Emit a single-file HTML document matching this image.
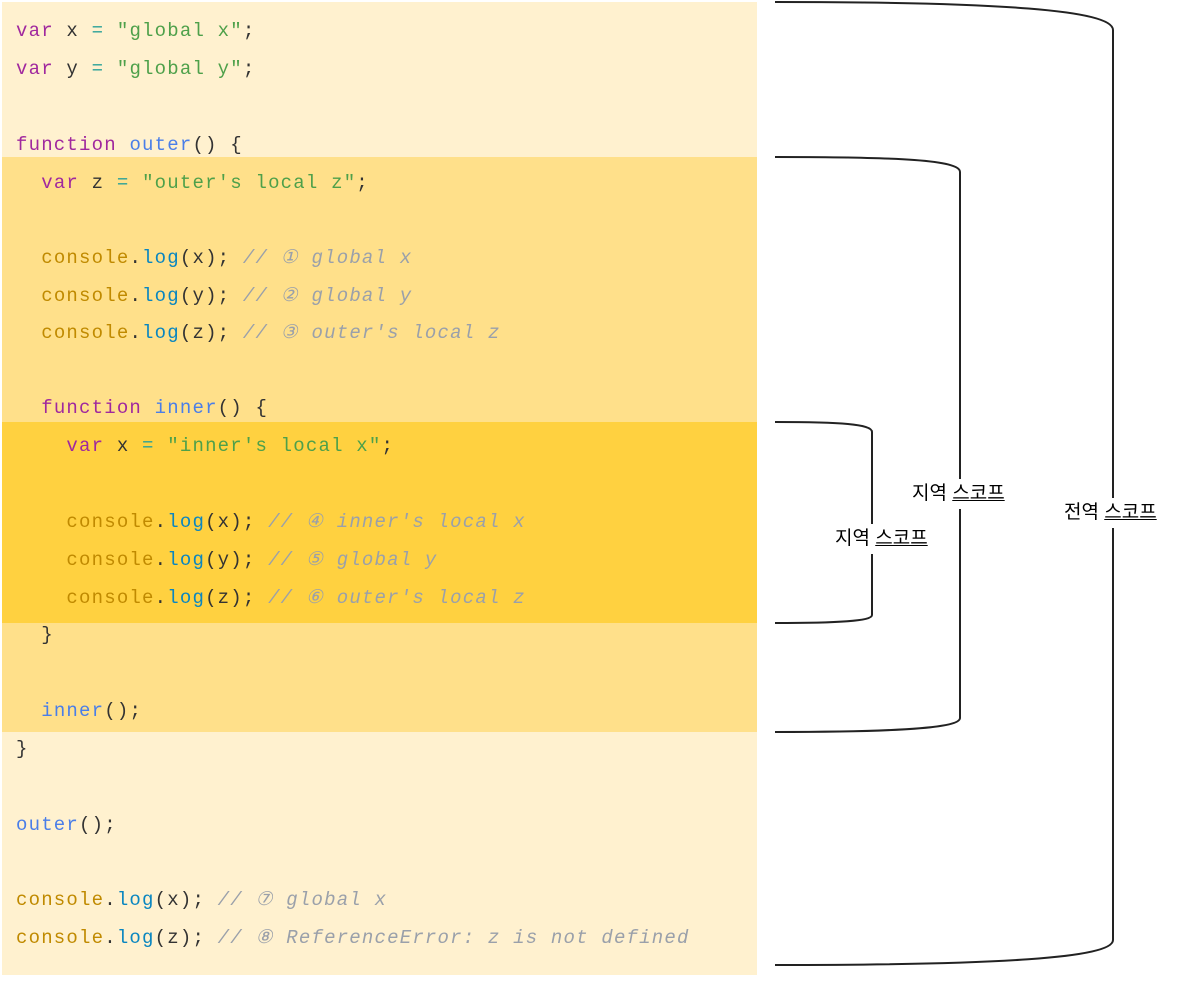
<!DOCTYPE html>
<html><head><meta charset="utf-8"><style>
body{margin:0;width:1192px;height:1006px;background:#fff;position:relative;overflow:hidden}
.bg{position:absolute;left:2px;width:755px}
.l{position:absolute;left:16px;height:38px;line-height:38px;font-family:"Liberation Mono","DejaVu Sans Mono",monospace;font-size:19px;letter-spacing:1.2px;color:#333;white-space:pre}
.k{color:#a0289e}.f{color:#4a7ee8}.s{color:#4ea04a}.o{color:#2aa198}.c{color:#c08a00}.m{color:#0a86c0}.cm{color:#9aa0aa;font-style:italic}
.lab{position:absolute;font-family:"Liberation Sans","Noto Sans CJK KR",sans-serif;font-size:19px;color:#000;background:#fff;padding:4px 0;line-height:22px}
.lab u{text-decoration:underline}
</style></head><body>
<div class="bg" style="top:2px;height:973px;background:#fff1cf"></div>
<div class="bg" style="top:157px;height:575px;background:#ffe08a"></div>
<div class="bg" style="top:422px;height:201px;background:#ffd140"></div>

<div class="l" style="top:12px"><span class="k">var</span> x <span class="o">=</span> <span class="s">"global x"</span>;</div>
<div class="l" style="top:50px"><span class="k">var</span> y <span class="o">=</span> <span class="s">"global y"</span>;</div>
<div class="l" style="top:126px"><span class="k">function</span> <span class="f">outer</span>() {</div>
<div class="l" style="top:164px">  <span class="k">var</span> z <span class="o">=</span> <span class="s">"outer's local z"</span>;</div>
<div class="l" style="top:239px">  <span class="c">console</span>.<span class="m">log</span>(x); <span class="cm">// ① global x</span></div>
<div class="l" style="top:277px">  <span class="c">console</span>.<span class="m">log</span>(y); <span class="cm">// ② global y</span></div>
<div class="l" style="top:314px">  <span class="c">console</span>.<span class="m">log</span>(z); <span class="cm">// ③ outer's local z</span></div>
<div class="l" style="top:389px">  <span class="k">function</span> <span class="f">inner</span>() {</div>
<div class="l" style="top:427px">    <span class="k">var</span> x <span class="o">=</span> <span class="s">"inner's local x"</span>;</div>
<div class="l" style="top:503px">    <span class="c">console</span>.<span class="m">log</span>(x); <span class="cm">// ④ inner's local x</span></div>
<div class="l" style="top:541px">    <span class="c">console</span>.<span class="m">log</span>(y); <span class="cm">// ⑤ global y</span></div>
<div class="l" style="top:579px">    <span class="c">console</span>.<span class="m">log</span>(z); <span class="cm">// ⑥ outer's local z</span></div>
<div class="l" style="top:616px">  }</div>
<div class="l" style="top:692px">  <span class="f">inner</span>();</div>
<div class="l" style="top:730px">}</div>
<div class="l" style="top:806px"><span class="f">outer</span>();</div>
<div class="l" style="top:881px"><span class="c">console</span>.<span class="m">log</span>(x); <span class="cm">// ⑦ global x</span></div>
<div class="l" style="top:919px"><span class="c">console</span>.<span class="m">log</span>(z); <span class="cm">// ⑧ ReferenceError: z is not defined</span></div>

<svg style="position:absolute;left:0;top:0" width="1192" height="1006">
<g fill="none" stroke="#222" stroke-width="2">
<path d="M775,2 C1000,2 1113,10 1113,30 L1113,940 C1113,958 1000,965 775,965"/>
<path d="M775,157 C900,157 960,160 960,172 L960,718 C960,728 900,732 775,732"/>
<path d="M775,422 C840,422 872,424 872,432 L872,615 C872,621 840,623 775,623"/>
</g></svg>
<div class="lab" style="left:912px;top:479px">지역 <u>스코프</u></div>
<div class="lab" style="left:835px;top:524px">지역 <u>스코프</u></div>
<div class="lab" style="left:1064px;top:498px">전역 <u>스코프</u></div>
</body></html>
